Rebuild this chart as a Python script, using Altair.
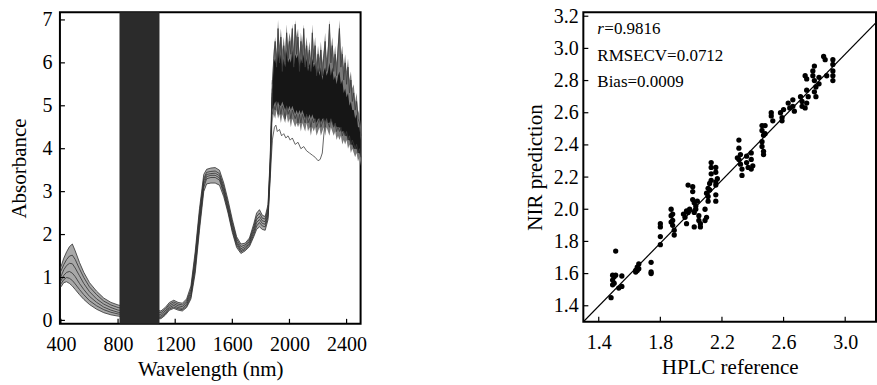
import altair as alt
import pandas as pd

FONT = "Liberation Serif"

# ---------------- Left panel: NIR spectra ----------------
wl = [400, 420, 440, 460, 480, 500, 530, 560, 600, 650,
      700, 750, 800, 850, 900, 950, 1000, 1050, 1100, 1130,
      1160, 1190, 1220, 1250, 1280, 1310, 1340, 1370, 1400, 1420,
      1450, 1480, 1510, 1540, 1570, 1600, 1630, 1660, 1690, 1720,
      1750, 1770, 1790, 1810, 1830, 1850, 1865, 1880]

c1 = [1.25, 1.45, 1.60, 1.72, 1.78, 1.62, 1.35, 1.12, 0.88, 0.68,
      0.52, 0.42, 0.36, 0.32, 0.30, 0.28, 0.27, 0.25, 0.22, 0.30,
      0.42, 0.47, 0.42, 0.40, 0.50, 0.80, 1.60, 2.60, 3.40, 3.52,
      3.55, 3.56, 3.50, 3.20, 2.80, 2.35, 1.95, 1.78, 1.80, 1.92,
      2.25, 2.50, 2.58, 2.45, 2.42, 2.70, 3.80, 5.60]
c2 = [1.15, 1.30, 1.42, 1.50, 1.52, 1.42, 1.20, 1.00, 0.78, 0.60,
      0.45, 0.36, 0.30, 0.27, 0.25, 0.24, 0.23, 0.21, 0.18, 0.26,
      0.38, 0.43, 0.38, 0.36, 0.45, 0.72, 1.50, 2.50, 3.30, 3.45,
      3.47, 3.48, 3.42, 3.12, 2.72, 2.28, 1.90, 1.72, 1.76, 1.88,
      2.18, 2.42, 2.50, 2.38, 2.36, 2.62, 3.70, 5.40]
c3 = [1.02, 1.18, 1.28, 1.33, 1.32, 1.22, 1.04, 0.86, 0.67, 0.50,
      0.38, 0.30, 0.24, 0.22, 0.20, 0.19, 0.18, 0.16, 0.14, 0.22,
      0.34, 0.39, 0.34, 0.32, 0.41, 0.66, 1.40, 2.40, 3.25, 3.40,
      3.42, 3.43, 3.37, 3.06, 2.66, 2.22, 1.84, 1.67, 1.72, 1.84,
      2.12, 2.35, 2.42, 2.32, 2.30, 2.55, 3.60, 5.30]
c4 = [0.92, 1.05, 1.12, 1.14, 1.10, 1.02, 0.86, 0.72, 0.56, 0.42,
      0.31, 0.24, 0.19, 0.17, 0.15, 0.14, 0.13, 0.12, 0.10, 0.18,
      0.30, 0.35, 0.30, 0.28, 0.37, 0.60, 1.30, 2.30, 3.18, 3.35,
      3.38, 3.38, 3.32, 3.00, 2.60, 2.16, 1.80, 1.63, 1.68, 1.80,
      2.06, 2.28, 2.35, 2.26, 2.24, 2.48, 3.50, 5.20]
c5 = [0.85, 0.95, 1.00, 0.98, 0.93, 0.85, 0.72, 0.60, 0.46, 0.34,
      0.25, 0.19, 0.15, 0.13, 0.11, 0.10, 0.09, 0.08, 0.07, 0.15,
      0.27, 0.31, 0.27, 0.25, 0.33, 0.55, 1.20, 2.20, 3.10, 3.30,
      3.33, 3.33, 3.27, 2.95, 2.55, 2.10, 1.75, 1.60, 1.65, 1.76,
      2.00, 2.20, 2.28, 2.20, 2.18, 2.42, 3.40, 5.10]
c6 = [0.78, 0.88, 0.90, 0.86, 0.80, 0.72, 0.60, 0.49, 0.37, 0.26,
      0.18, 0.13, 0.10, 0.08, 0.07, 0.06, 0.05, 0.04, 0.04, 0.12,
      0.24, 0.28, 0.24, 0.22, 0.30, 0.50, 1.10, 2.10, 3.00, 3.18,
      3.20, 3.20, 3.15, 2.88, 2.50, 2.05, 1.70, 1.56, 1.62, 1.72,
      1.95, 2.12, 2.18, 2.12, 2.10, 2.35, 3.30, 4.20]

# noisy combination band region (>1880 nm)
noisy_wl = [1880, 1890, 1900, 1910, 1920, 1930, 1940, 1950, 1960, 1970,
            1980, 1990, 2000, 2010, 2020, 2030, 2040, 2050, 2060, 2070,
            2080, 2090, 2100, 2110, 2120, 2130, 2140, 2150, 2160, 2170,
            2180, 2190, 2200, 2210, 2220, 2230, 2240, 2250, 2260, 2270,
            2280, 2290, 2300, 2310, 2320, 2330, 2340, 2350, 2360, 2370,
            2380, 2390, 2400, 2410, 2420, 2430, 2440, 2450, 2460, 2470,
            2480, 2490, 2500]
noisy_upper = [5.6, 6.3, 6.6, 6.2, 7.0, 6.4, 6.8, 6.3, 6.6, 6.2,
               6.9, 6.4, 6.7, 6.5, 6.9, 6.3, 7.0, 6.6, 6.8, 6.2,
               6.7, 6.4, 6.9, 6.3, 6.6, 6.2, 6.5, 6.1, 6.9, 6.3,
               6.6, 6.0, 6.4, 6.1, 6.5, 6.0, 6.3, 6.7, 6.1, 6.4,
               7.0, 6.3, 6.6, 6.1, 6.4, 6.0, 6.5, 7.0, 6.2, 6.4,
               5.9, 6.2, 5.8, 6.1, 5.6, 5.8, 5.4, 5.5, 5.1, 5.3,
               4.9, 4.8, 4.5]
noisy_lower = [4.6, 4.8, 4.7, 4.9, 4.7, 4.8, 4.6, 4.8, 4.7, 4.6,
               4.8, 4.6, 4.7, 4.5, 4.7, 4.6, 4.5, 4.6, 4.5, 4.6,
               4.4, 4.6, 4.5, 4.4, 4.6, 4.4, 4.5, 4.3, 4.5, 4.4,
               4.5, 4.3, 4.4, 4.5, 4.3, 4.4, 4.5, 4.3, 4.5, 4.4,
               4.3, 4.5, 4.4, 4.3, 4.4, 4.2, 4.3, 4.2, 4.3, 4.1,
               4.2, 4.1, 4.2, 4.0, 4.1, 3.9, 4.0, 3.9, 3.8, 3.9,
               3.7, 3.8, 3.6]
core_upper = [5.4, 6.0, 6.1, 5.9, 6.3, 6.0, 6.2, 5.9, 6.1, 5.9,
              6.3, 6.0, 6.1, 6.0, 6.3, 5.9, 6.2, 6.1, 6.2, 5.9,
              6.1, 6.0, 6.2, 5.9, 6.1, 5.8, 6.0, 5.8, 6.1, 5.9,
              6.0, 5.7, 5.9, 5.7, 5.9, 5.6, 5.8, 5.9, 5.7, 5.8,
              6.0, 5.7, 5.9, 5.6, 5.7, 5.5, 5.7, 5.8, 5.5, 5.6,
              5.3, 5.4, 5.2, 5.3, 5.0, 5.1, 4.9, 4.9, 4.7, 4.8,
              4.5, 4.5, 4.2]
core_lower = [4.9, 5.0, 5.1, 5.0, 5.1, 5.0, 5.0, 5.1, 5.0, 4.9,
              5.0, 4.9, 5.0, 4.9, 5.0, 4.9, 4.8, 4.9, 4.8, 4.9,
              4.8, 4.9, 4.8, 4.7, 4.8, 4.7, 4.8, 4.7, 4.8, 4.7,
              4.7, 4.6, 4.7, 4.7, 4.6, 4.7, 4.7, 4.6, 4.7, 4.6,
              4.6, 4.7, 4.6, 4.5, 4.6, 4.5, 4.5, 4.5, 4.4, 4.4,
              4.4, 4.3, 4.3, 4.2, 4.2, 4.1, 4.1, 4.0, 4.0, 4.0,
              3.9, 3.9, 3.8]
trace_hi = [5.5, 6.1, 6.5, 5.9, 6.8, 6.0, 6.6, 5.8, 6.4, 6.0,
            6.7, 6.1, 6.5, 6.2, 6.8, 5.9, 6.9, 6.2, 6.6, 5.8,
            6.5, 6.0, 6.8, 5.9, 6.4, 5.9, 6.3, 5.8, 6.7, 6.0,
            6.4, 5.7, 6.2, 5.8, 6.3, 5.7, 6.1, 6.5, 5.8, 6.2,
            6.9, 6.0, 6.4, 5.8, 6.2, 5.7, 6.3, 6.8, 5.9, 6.2,
            5.6, 6.0, 5.5, 5.9, 5.3, 5.6, 5.1, 5.3, 4.9, 5.1,
            4.7, 4.6, 4.3]
trace_lo = [4.8, 5.0, 4.9, 5.1, 4.8, 5.0, 4.8, 5.0, 4.9, 4.7,
            5.0, 4.8, 4.9, 4.7, 4.9, 4.8, 4.7, 4.8, 4.6, 4.8,
            4.6, 4.8, 4.7, 4.6, 4.8, 4.6, 4.7, 4.5, 4.7, 4.6,
            4.7, 4.5, 4.6, 4.7, 4.5, 4.6, 4.7, 4.5, 4.7, 4.6,
            4.5, 4.7, 4.6, 4.5, 4.6, 4.4, 4.5, 4.4, 4.5, 4.3,
            4.4, 4.3, 4.4, 4.2, 4.3, 4.1, 4.2, 4.1, 4.0, 4.1,
            3.9, 4.0, 3.8]

outlier_wl = [1880, 1895, 1905, 1915, 1930, 1945, 1960, 1975, 1990, 2005,
              2020, 2040, 2060, 2080, 2100, 2120, 2140, 2160, 2180, 2200,
              2215, 2230, 2245, 2260]
outlier_a = [4.2, 4.5, 4.55, 4.4, 4.45, 4.3, 4.35, 4.25, 4.3, 4.2,
             4.25, 4.1, 4.15, 4.0, 4.05, 3.95, 3.9, 3.85, 3.8, 3.72,
             3.75, 3.9, 4.5, 4.7]

band_start = [810]
band_end = [1090]

xL_ticks = [400, 800, 1200, 1600, 2000, 2400]
yL_ticks = [0, 1, 2, 3, 4, 5, 6, 7]

# ---------------- Right panel: prediction vs reference ----------------
hplc = [1.51, 1.49, 1.49, 1.50, 1.50, 1.49, 1.51, 1.55, 1.55, 1.53, 1.48,
        1.64, 1.65, 1.66, 1.64, 1.66, 1.65,
        1.74, 1.74, 1.74,
        1.80, 1.80, 1.80, 1.80,
        1.87, 1.87, 1.88, 1.88, 1.89, 1.89, 1.88, 1.87,
        1.95, 1.96, 1.97, 1.97, 1.99, 1.98,
        1.98, 2.01, 2.01,
        2.01, 2.02, 2.03, 2.02, 2.04, 2.03, 2.02,
        2.05, 2.05, 2.06, 2.06,
        2.09, 2.10, 2.09,
        2.10, 2.11, 2.11, 2.12, 2.12, 2.11,
        2.13, 2.13, 2.13, 2.13,
        2.16, 2.16, 2.17, 2.16, 2.16, 2.16, 2.16,
        2.31, 2.31, 2.32, 2.31, 2.32, 2.30,
        2.33, 2.33,
        2.36, 2.36, 2.37,
        2.39, 2.39, 2.40, 2.39,
        2.46, 2.46, 2.47, 2.46, 2.46, 2.47, 2.47,
        2.48, 2.48,
        2.52, 2.53, 2.52,
        2.58, 2.59, 2.59, 2.60,
        2.63, 2.64, 2.66, 2.66, 2.67,
        2.71, 2.72, 2.72,
        2.74, 2.75, 2.75, 2.76, 2.75, 2.74,
        2.79, 2.80, 2.80, 2.81, 2.80, 2.81, 2.79,
        2.83, 2.83,
        2.86, 2.87, 2.88,
        2.92, 2.92, 2.92, 2.92, 2.92]
nir = [1.74, 1.59, 1.56, 1.58, 1.54, 1.53, 1.59, 1.585, 1.52, 1.51, 1.45,
       1.62, 1.64, 1.63, 1.61, 1.66, 1.62,
       1.67, 1.61, 1.60,
       1.91, 1.89, 1.83, 1.78,
       2.00, 1.96, 1.93, 1.90, 1.87, 1.84, 1.97, 1.92,
       1.97, 1.95, 1.99, 1.91, 2.00, 1.98,
       2.15, 2.14, 2.11,
       2.06, 2.04, 2.02, 1.98, 2.05, 2.00, 1.89,
       1.96, 1.93, 1.89, 1.91,
       2.00, 1.95, 1.93,
       2.10, 2.08, 2.13, 2.16, 2.12, 2.05,
       2.29, 2.26, 2.22, 2.18,
       2.26, 2.23, 2.19, 2.15, 2.09, 2.05, 2.17,
       2.43, 2.38, 2.34, 2.31, 2.28, 2.32,
       2.25, 2.21,
       2.33, 2.29, 2.26,
       2.35, 2.31, 2.27, 2.25,
       2.52, 2.49, 2.46, 2.42, 2.39, 2.36, 2.34,
       2.52, 2.47,
       2.58, 2.55, 2.60,
       2.60, 2.57, 2.55, 2.62,
       2.66, 2.63, 2.68, 2.64, 2.61,
       2.70, 2.67, 2.64,
       2.83, 2.81, 2.74, 2.70, 2.66, 2.63,
       2.86, 2.89, 2.80, 2.76, 2.73, 2.70, 2.83,
       2.82, 2.78,
       2.95, 2.93, 2.83,
       2.93, 2.90, 2.86, 2.83, 2.80]

fit_x = [1.30, 3.20]
fit_y = [1.30, 3.16]

xR_ticks = [1.4, 1.8, 2.2, 2.6, 3.0]
yR_ticks = [1.4, 1.6, 1.8, 2.0, 2.2, 2.4, 2.6, 2.8, 3.0, 3.2]

stats_r = "=0.9816"
stats_rmsecv = "RMSECV=0.0712"
stats_bias = "Bias=0.0009"

# ---------------- Build charts ----------------
W_L, H_L = 301, 312
W_R, H_R = 293, 310
TICK = 5

xL_scale = alt.Scale(domain=[393, 2498], nice=False, zero=False)
yL_scale = alt.Scale(domain=[-0.08, 7.18], nice=False, zero=False)
axL_x = alt.Axis(values=xL_ticks, title="Wavelength (nm)", format="d",
                 labelPadding=11, titlePadding=4)
axL_y = alt.Axis(values=yL_ticks, title="Absorbance", labelPadding=8, titlePadding=12)


def XL(f):
    return alt.X(f, scale=xL_scale, axis=axL_x, title="Wavelength (nm)")


def YL(f):
    return alt.Y(f, scale=yL_scale, axis=axL_y, title="Absorbance")


spec_wide = pd.DataFrame({"wl": wl, "c1": c1, "c2": c2, "c3": c3,
                          "c4": c4, "c5": c5, "c6": c6})
spec_long = spec_wide.melt("wl", var_name="curve", value_name="A")
noisy_df = pd.DataFrame({"wl": noisy_wl, "up": noisy_upper, "lo": noisy_lower,
                         "cu": core_upper, "cl": core_lower,
                         "th": trace_hi, "tl": trace_lo})
noisy_long = noisy_df.melt("wl", value_vars=["th", "tl"], var_name="trace", value_name="A")
outlier_df = pd.DataFrame({"wl": outlier_wl, "A": outlier_a})
band_df = pd.DataFrame({"s": band_start, "e": band_end})
xLt_df = pd.DataFrame({"v": xL_ticks})
yLt_df = pd.DataFrame({"v": yL_ticks})

envelope = alt.Chart(spec_wide).mark_area(color="#a8a8a8").encode(
    x=XL("wl:Q"), y=YL("c1:Q"), y2="c6:Q")
lines = alt.Chart(spec_long).mark_line(color="#303030", strokeWidth=0.8).encode(
    x=XL("wl:Q"), y=YL("A:Q"), detail="curve:N")
noisy_gray = alt.Chart(noisy_df).mark_area(color="#7a7a7a").encode(
    x=XL("wl:Q"), y=YL("up:Q"), y2="lo:Q")
noisy_core = alt.Chart(noisy_df).mark_area(color="#161616").encode(
    x=XL("wl:Q"), y=YL("cu:Q"), y2="cl:Q")
noisy_traces = alt.Chart(noisy_long).mark_line(color="#3a3a3a", strokeWidth=0.8).encode(
    x=XL("wl:Q"), y=YL("A:Q"), detail="trace:N")
outlier = alt.Chart(outlier_df).mark_line(color="#555555", strokeWidth=0.9).encode(
    x=XL("wl:Q"), y=YL("A:Q"))
band = alt.Chart(band_df).mark_rect(color="#2b2b2b").encode(
    x=XL("s:Q"), x2="e:Q", y=alt.value(0), y2=alt.value(H_L))
xL_tk = alt.Chart(xLt_df).mark_rule(color="black", strokeWidth=1.2).encode(
    x=XL("v:Q"), y=alt.value(H_L), y2=alt.value(H_L - TICK))
yL_tk = alt.Chart(yLt_df).mark_rule(color="black", strokeWidth=1.2).encode(
    y=YL("v:Q"), x=alt.value(0), x2=alt.value(TICK))
left = alt.layer(envelope, lines, noisy_gray, noisy_core, noisy_traces, outlier,
                 band, xL_tk, yL_tk).properties(width=W_L, height=H_L)

xR_scale = alt.Scale(domain=[1.3, 3.2], nice=False, zero=False)
yR_scale = alt.Scale(domain=[1.3, 3.225], nice=False, zero=False)
axR_x = alt.Axis(values=xR_ticks, format=".1f", title="HPLC reference",
                 labelPadding=11, titlePadding=4)
axR_y = alt.Axis(values=yR_ticks, format=".1f", title="NIR prediction",
                 labelPadding=5, titlePadding=8)


def XR(f):
    return alt.X(f, scale=xR_scale, axis=axR_x, title="HPLC reference")


def YR(f):
    return alt.Y(f, scale=yR_scale, axis=axR_y, title="NIR prediction")


pts_df = pd.DataFrame({"hplc": hplc, "nir": nir})
fit_df = pd.DataFrame({"x": fit_x, "y": fit_y})
xRt_df = pd.DataFrame({"v": xR_ticks})
yRt_df = pd.DataFrame({"v": yR_ticks})
one = pd.DataFrame({"k": [0]})

points = alt.Chart(pts_df).mark_circle(color="black", opacity=1, size=28).encode(
    x=XR("hplc:Q"), y=YR("nir:Q"))
fit = alt.Chart(fit_df).mark_line(color="black", strokeWidth=1.2, clip=True).encode(
    x=XR("x:Q"), y=YR("y:Q"))
xR_tk = alt.Chart(xRt_df).mark_rule(color="black", strokeWidth=1.2).encode(
    x=XR("v:Q"), y=alt.value(H_R), y2=alt.value(H_R - TICK))
yR_tk = alt.Chart(yRt_df).mark_rule(color="black", strokeWidth=1.2).encode(
    y=YR("v:Q"), x=alt.value(0), x2=alt.value(TICK))
txt_kw = dict(font=FONT, fontSize=17, color="black", align="left", baseline="alphabetic")
t_r = alt.Chart(one).mark_text(text="r", fontStyle="italic", **txt_kw).encode(
    x=alt.value(14), y=alt.value(22))
t_r2 = alt.Chart(one).mark_text(text=stats_r, **txt_kw).encode(
    x=alt.value(21), y=alt.value(22))
t_rm = alt.Chart(one).mark_text(text=stats_rmsecv, **txt_kw).encode(
    x=alt.value(14), y=alt.value(49))
t_b = alt.Chart(one).mark_text(text=stats_bias, **txt_kw).encode(
    x=alt.value(14), y=alt.value(75))

right = alt.layer(points, fit, xR_tk, yR_tk, t_r, t_r2, t_rm, t_b).properties(
    width=W_R, height=H_R)

chart = alt.hconcat(left, right, spacing=223, bounds="flush").properties(
    padding={"left": 8, "top": 5, "right": 0, "bottom": 0},
    background="white",
).configure_view(
    stroke="black", strokeWidth=2
).configure_axis(
    grid=False, ticks=False, domain=False,
    labelFont=FONT, labelFontSize=20, labelColor="black",
    titleFont=FONT, titleFontSize=21, titleFontWeight="normal", titleColor="black",
)

chart.save("out.html", embed_options={"renderer": "svg", "actions": False})
